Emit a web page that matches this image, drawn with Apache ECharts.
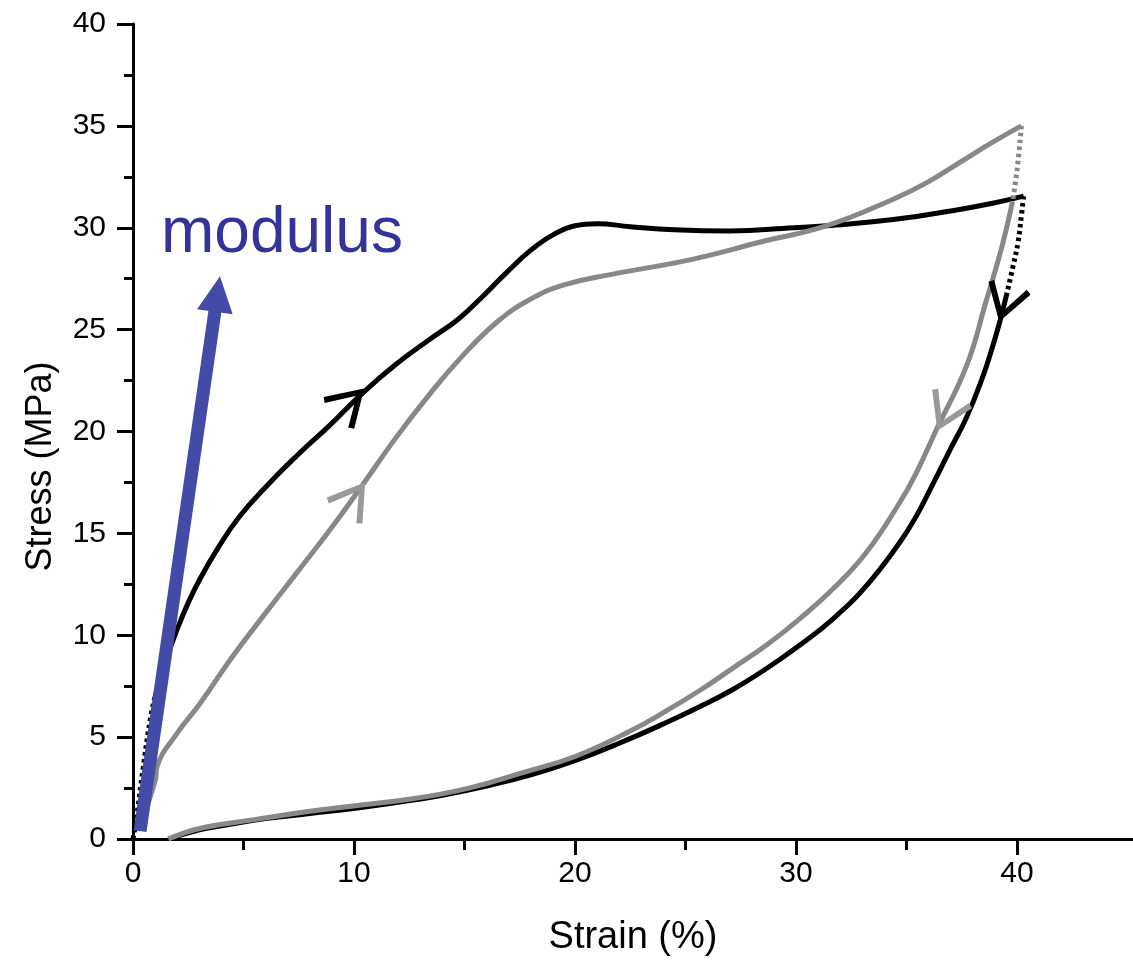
<!DOCTYPE html>
<html>
<head>
<meta charset="utf-8">
<script src="https://cdn.jsdelivr.net/npm/echarts@6/dist/echarts.min.js"></script>
<style>
  html, body { margin: 0; padding: 0; background: #fff; }
  #chart { width: 1133px; height: 962px; }
</style>
</head>
<body>
<div id="chart"></div>
<script>
// strain (%), stress (MPa)
var blackLoadStart = [[0, 0], [0.18, 1.2], [0.45, 3.4], [0.77, 5.8], [1.0, 7.0]];
var blackLoad = [[1.0, 7.0], [1.5, 8.8], [2.0, 10.3], [2.5, 11.6], [3.0, 12.7], [3.8, 14.2], [4.8, 15.8],
  [6.2, 17.5], [7.4, 18.8], [8.9, 20.3], [10.4, 21.9], [11.9, 23.3], [13.4, 24.5], [14.7, 25.5],
  [15.8, 26.6], [16.9, 27.8], [18.0, 28.9], [19.0, 29.65], [20.0, 30.1], [21.0, 30.2], [22.5, 30.05],
  [24.5, 29.9], [27.0, 29.84], [29.9, 30.0], [31.4, 30.1], [34.4, 30.4], [37.4, 30.9],
  [38.9, 31.2], [40.3, 31.55]];
var blackTurn = [[40.3, 31.55], [40.2, 30.6], [40.05, 29.3], [39.82, 28.1], [39.55, 26.8]];
var blackUnload = [[39.55, 26.8], [39.2, 25.3], [38.85, 24.0], [38.47, 22.74], [37.72, 20.7], [36.97, 19.1],
  [36.21, 17.45], [35.46, 15.88], [34.71, 14.58], [33.2, 12.45], [31.69, 10.82], [30.18, 9.52],
  [28.67, 8.37], [27.16, 7.35], [25.66, 6.5], [24, 5.65], [22, 4.7], [20, 3.85], [18, 3.15], [16, 2.6],
  [14, 2.15], [12, 1.8], [10, 1.5], [8, 1.25], [6, 1.0], [4, 0.65], [3, 0.45], [1.6, 0]];

var grayLoad = [[0.3, 0.6], [1.0, 2.84], [1.1, 3.6], [2.0, 5.2], [3.0, 6.6], [4.4, 8.8], [5.9, 10.95],
  [7.4, 13.05], [9.0, 15.3], [10.4, 17.4], [11.9, 19.7], [13.4, 21.8], [14.9, 23.7], [16.5, 25.4],
  [18.0, 26.5], [19.5, 27.2], [21.6, 27.7], [25.3, 28.45], [28.4, 29.3], [31.4, 30.1],
  [34.4, 31.4], [35.9, 32.2], [37.4, 33.2], [38.9, 34.2], [40.2, 35.0]];
var grayTurn = [[40.2, 35.0], [40.0, 32.8], [39.8, 31.3]];
var grayUnload = [[39.8, 31.3], [39.37, 29.28], [38.91, 27.5], [38.63, 26.49], [37.72, 23.23],
  [36.37, 20.13], [35.46, 18.01], [34.71, 16.54], [33.2, 14.09], [31.69, 12.29], [30.18, 10.82],
  [28.67, 9.52], [27.16, 8.4], [25.66, 7.3], [24.15, 6.3], [22.5, 5.3], [20, 4.05], [17.6, 3.25],
  [15.2, 2.5], [12.8, 2.0], [10.4, 1.68], [8, 1.36], [5.5, 0.95], [3.1, 0.54], [1.6, 0]];

// direction arrows on the curves: [strain, stress, angle in degrees]
var blackArrows = [[10.45, 22.1, 44], [39.2, 25.4, -107]];
var grayArrows = [[10.5, 17.5, 54], [36.4, 20.05, -115]];

// modulus arrow: start and end (head centre)
var modulusStart = [0.32, 0.39];
var modulusEnd = [3.82, 26.75];

var strainMax = 45.25;

// open chevron pointing right, tip at the symbol centre
var chevron = 'path://M40,22 L5,0 L1.5,5 L29.5,22 L1.5,39 L5,44 Z M77.9,22 L78,22 L78,22.1 Z';

var font = 'Liberation Sans';
var chart = echarts.init(document.getElementById('chart'));

function curve(name, data, color, dotted, z, arrows) {
  var s = {
    name: name,
    type: 'line',
    data: data,
    showSymbol: false,
    smooth: 0.45,
    clip: false,
    z: z,
    lineStyle: { color: color, width: 5, type: dotted ? [3.5, 3.5] : 'solid', cap: 'butt', join: 'round' }
  };
  if (arrows) {
    s.markPoint = {
      silent: true,
      symbol: chevron,
      symbolSize: [76.5, 44],
      label: { show: false },
      itemStyle: { color: arrows.color },
      data: arrows.list.map(function(a) {
        return { coord: [a[0], a[1]], symbolRotate: a[2] };
      })
    };
  }
  return s;
}

chart.setOption({
  animation: false,
  backgroundColor: '#fff',
  grid: [
    { left: 133, right: 0, top: 24, bottom: 121 },
    { left: 133, width: 884, top: 24, bottom: 121 }
  ],
  xAxis: [{
    type: 'value',
    min: 0,
    max: strainMax,
    interval: 10,
    name: 'Strain (%)',
    nameLocation: 'middle',
    nameGap: 80,
    nameTextStyle: { fontFamily: font, fontSize: 38, color: '#000' },
    axisLine: { lineStyle: { color: '#000', width: 3 } },
    axisTick: { length: 16, lineStyle: { color: '#000', width: 3 } },
    axisLabel: { fontFamily: font, fontSize: 30, color: '#000', margin: 20, showMaxLabel: false },
    splitLine: { show: false }
  }, {
    // short ticks every 5 %
    type: 'value',
    gridIndex: 1,
    min: 0,
    max: 40,
    interval: 5,
    axisLine: { show: false },
    axisTick: { length: 9, lineStyle: { color: '#000', width: 3 } },
    axisLabel: { show: false },
    splitLine: { show: false }
  }],
  yAxis: [{
    type: 'value',
    min: 0,
    max: 40,
    interval: 5,
    name: 'Stress (MPa)',
    nameLocation: 'middle',
    nameGap: 74,
    nameTextStyle: { fontFamily: font, fontSize: 36, color: '#000', padding: [0, 70, 0, 0] },
    axisLine: { show: true, lineStyle: { color: '#000', width: 3 } },
    axisTick: { show: true, length: 16, lineStyle: { color: '#000', width: 3 } },
    minorTick: { show: true, splitNumber: 2, length: 9, lineStyle: { color: '#000', width: 3 } },
    axisLabel: { fontFamily: font, fontSize: 30, color: '#000', margin: 27 },
    splitLine: { show: false }
  }, {
    type: 'value', gridIndex: 1, min: 0, max: 40, show: false
  }],
  graphic: [{
    type: 'text',
    left: 161,
    top: 202,
    style: { text: 'modulus', font: '64px "Liberation Sans"', fill: '#333399' }
  }],
  series: [
    curve('black start', blackLoadStart, '#000', true, 2),
    curve('black loading', blackLoad, '#000', false, 2, { color: '#000', list: [blackArrows[0]] }),
    curve('black turn', blackTurn, '#000', true, 2),
    curve('black unloading', blackUnload, '#000', false, 2, { color: '#000', list: [blackArrows[1]] }),
    curve('gray loading', grayLoad, '#888', false, 3, { color: '#999', list: [grayArrows[0]] }),
    curve('gray turn', grayTurn, '#888', true, 3),
    curve('gray unloading', grayUnload, '#888', false, 3, { color: '#999', list: [grayArrows[1]] }),
    {
      name: 'modulus',
      type: 'line',
      data: [],
      z: 5,
      markLine: {
        silent: true,
        symbol: ['none', 'triangle'],
        symbolSize: 36,
        label: { show: false },
        lineStyle: { color: '#434aa8', width: 13, type: 'solid', cap: 'butt' },
        data: [[{ coord: modulusStart }, { coord: modulusEnd }]]
      }
    }
  ]
});
</script>
</body>
</html>
